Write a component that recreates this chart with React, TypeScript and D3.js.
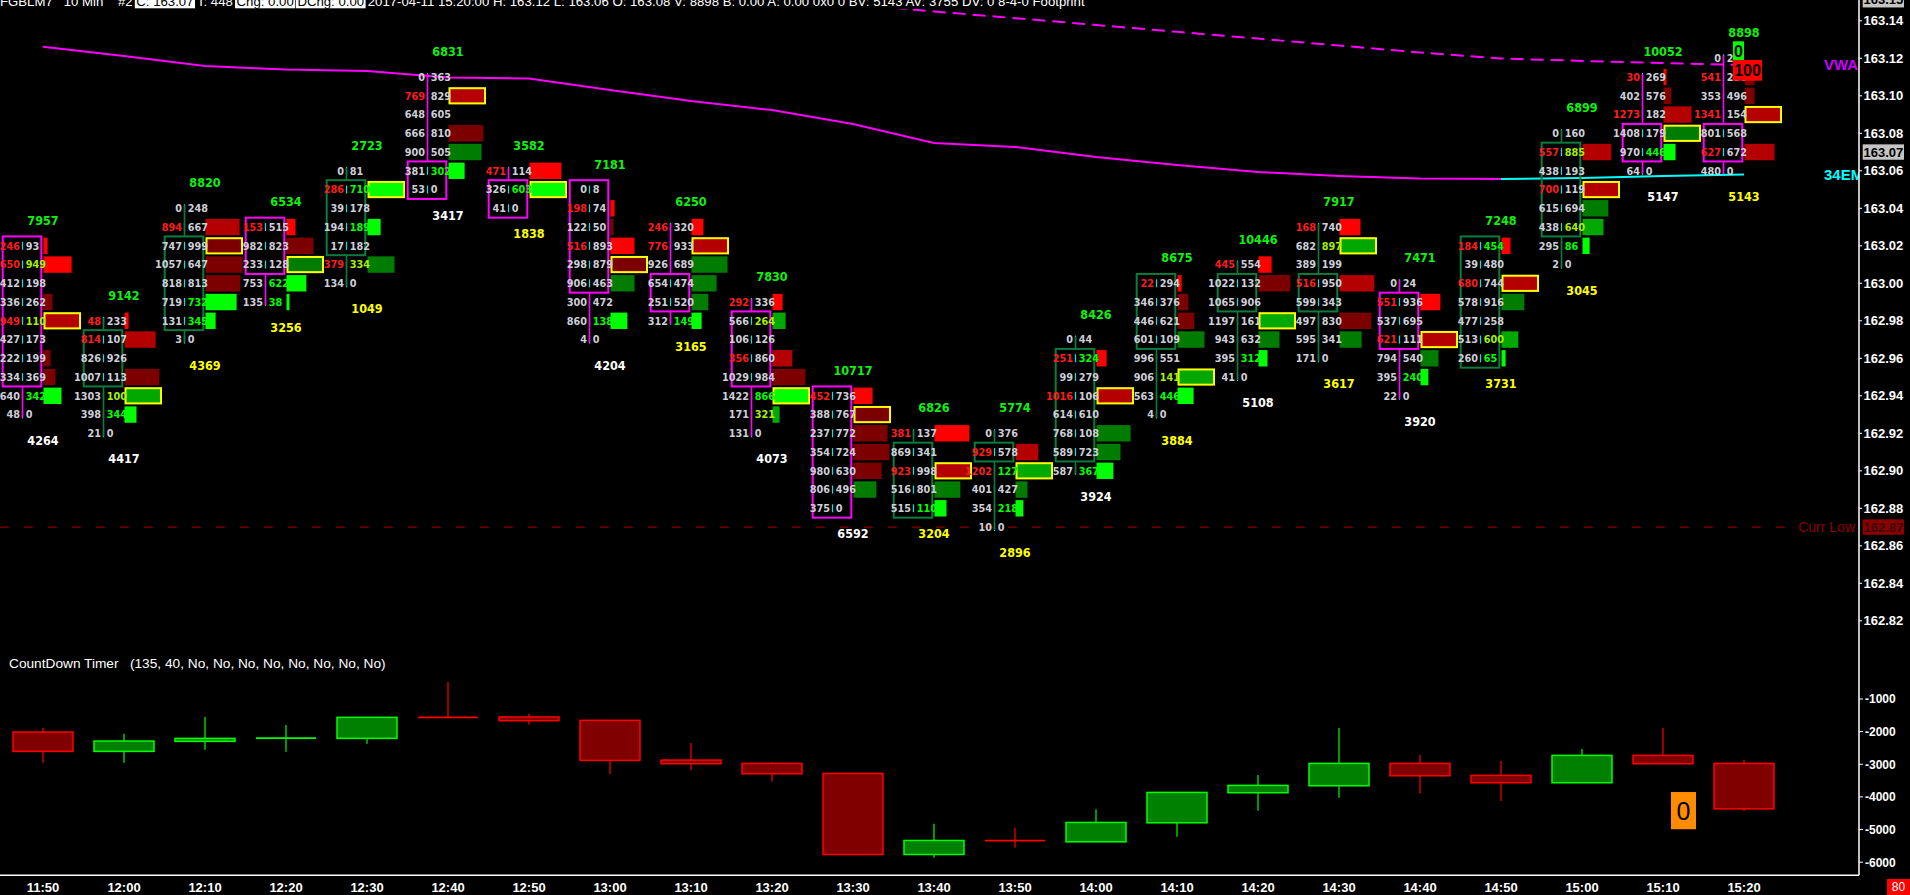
import * as d3 from "d3";
import { useEffect, useRef } from "react";

// bid, ask, imbalance flags (bid r / ask g|y), histogram % of widest row, tone (-3..3)
type Row = [string, string, string, number, number];

const times = ["11:50", "12:00", "12:10", "12:20", "12:30", "12:40", "12:50", "13:00", "13:10", "13:20", "13:30", "13:40", "13:50", "14:00", "14:10", "14:20", "14:30", "14:40", "14:50", "15:00", "15:10", "15:20"];

const barHigh = [163.02, 162.98, 163.04, 163.03, 163.06, 163.11, 163.06, 163.05, 163.03, 162.99, 162.94, 162.92, 162.92, 162.97, 163.0, 163.01, 163.03, 163.0, 163.02, 163.08, 163.11, 163.12];
const barOpen = [163.02, 162.95, 162.98, 163.03, 163.02, 163.06, 163.05, 163.05, 163.0, 162.98, 162.94, 162.88, 162.91, 162.91, 162.97, 162.99, 162.99, 162.99, 162.96, 163.03, 163.08, 163.08];
const barClose = [162.95, 162.97, 163.02, 163.01, 163.05, 163.05, 163.04, 163.0, 162.99, 162.95, 162.88, 162.91, 162.91, 162.96, 163.0, 163.0, 163.0, 162.97, 163.02, 163.07, 163.07, 163.07];
const barVolume = [7957, 9142, 8820, 6534, 2723, 6831, 3582, 7181, 6250, 7830, 10717, 6826, 5774, 8426, 8675, 10446, 7917, 7471, 7248, 6899, 10052, 8898];
const barDelta = [4264, 4417, 4369, 3256, 1049, 3417, 1838, 4204, 3165, 4073, 6592, 3204, 2896, 3924, 3884, 5108, 3617, 3920, 3731, 3045, 5147, 5143];
const deltaAlert = [0, 0, 1, 1, 1, 0, 1, 0, 1, 0, 0, 1, 1, 0, 1, 0, 1, 0, 1, 1, 0, 1];

const footprint: Row[][] = [
  [["246", "93", "r.", 11, -3], ["650", "949", "ry", 75, -3], ["412", "198", "..", 0, 0], ["336", "262", "..", 24, -1], ["949", "110", "ry", 100, -2], ["427", "173", "..", 0, 0], ["222", "199", "..", 19, -1], ["334", "369", "..", 32, -1], ["640", "342", ".g", 48, 3], ["48", "0", "..", 0, 0]],
  [["48", "233", "r.", 11, -3], ["814", "107", "r.", 83, -2], ["826", "926", "..", 0, 0], ["1007", "113", "..", 93, -1], ["1303", "100", ".y", 100, 2], ["398", "344", ".g", 32, 3], ["21", "0", "..", 0, 0]],
  [["0", "248", "..", 0, 0], ["894", "667", "r.", 91, -2], ["747", "999", "..", 100, -1], ["1057", "647", "..", 99, -1], ["818", "813", "..", 93, -1], ["719", "732", ".g", 83, 3], ["131", "345", ".g", 27, 3], ["3", "0", "..", 0, 0]],
  [["153", "515", "r.", 24, -3], ["982", "823", "..", 72, -1], ["233", "128", "..", 100, 1], ["753", "622", ".g", 53, 3], ["135", "38", ".g", 8, 3]],
  [["0", "81", "..", 0, 0], ["286", "710", "rg", 100, 3], ["39", "178", "..", 0, 0], ["194", "189", ".g", 35, 3], ["17", "182", "..", 0, 0], ["379", "334", "ry", 72, 1], ["134", "0", "..", 0, 0]],
  [["0", "363", "..", 0, 0], ["769", "829", "r.", 100, -2], ["648", "605", "..", 0, 0], ["666", "810", "..", 93, -1], ["900", "505", "..", 88, 1], ["381", "302", ".g", 43, 3], ["53", "0", "..", 0, 0]],
  [["471", "114", "r.", 85, -3], ["326", "603", ".g", 100, 3], ["41", "0", "..", 0, 0]],
  [["0", "8", "..", 0, 0], ["198", "74", "r.", 11, -3], ["122", "50", "..", 8, -1], ["516", "893", "r.", 64, -3], ["298", "879", "..", 100, -1], ["906", "463", "..", 64, 1], ["300", "472", "..", 0, 0], ["860", "138", ".g", 45, 3], ["4", "0", "..", 0, 0]],
  [["246", "320", "r.", 32, -3], ["776", "933", "r.", 100, -2], ["926", "689", "..", 96, 1], ["654", "474", "..", 67, 1], ["251", "520", "..", 45, 1], ["312", "149", ".g", 27, 3]],
  [["292", "336", "r.", 27, -3], ["566", "264", ".y", 35, 2], ["106", "126", "..", 0, 0], ["356", "860", "r.", 53, -2], ["1029", "984", "..", 88, -1], ["1422", "866", ".g", 100, 3], ["171", "321", ".y", 19, 2], ["131", "0", "..", 0, 0]],
  [["452", "736", "r.", 51, -3], ["388", "767", "..", 100, -1], ["237", "772", "..", 91, -1], ["354", "724", "..", 96, -1], ["980", "630", "..", 75, -1], ["806", "496", "..", 61, 1], ["375", "0", "..", 0, 0]],
  [["381", "137", "r.", 93, -3], ["869", "341", "..", 0, 0], ["923", "998", "r.", 100, -2], ["516", "801", "..", 69, 1], ["515", "110", ".g", 32, 3]],
  [["0", "376", "..", 0, 0], ["929", "578", "r.", 61, -2], ["1202", "127", "rg", 100, 2], ["401", "427", "..", 32, 1], ["354", "218", ".g", 21, 3], ["10", "0", "..", 0, 0]],
  [["0", "44", "..", 0, 0], ["251", "324", "rg", 27, -3], ["99", "279", "..", 0, 0], ["1016", "106", "r.", 100, -2], ["614", "610", "..", 0, 0], ["768", "108", "..", 91, 1], ["589", "723", "..", 64, 1], ["587", "367", ".g", 45, 3]],
  [["22", "294", "r.", 11, -3], ["346", "376", "..", 29, -1], ["446", "621", "..", 45, -1], ["601", "109", "..", 72, 1], ["996", "551", "..", 0, 0], ["906", "141", ".y", 100, 2], ["563", "446", ".g", 43, 3], ["4", "0", "..", 0, 0]],
  [["445", "554", "r.", 35, -3], ["1022", "132", "..", 85, -1], ["1065", "906", "..", 0, 0], ["1197", "161", "..", 100, 2], ["943", "632", "..", 56, 1], ["395", "312", ".g", 24, 3], ["41", "0", "..", 0, 0]],
  [["168", "740", "r.", 56, -3], ["682", "897", ".y", 100, 2], ["389", "199", "..", 0, 0], ["516", "950", "r.", 93, -2], ["599", "343", "..", 0, 0], ["497", "830", "..", 85, -1], ["595", "341", "..", 59, 1], ["171", "0", "..", 0, 0]],
  [["0", "24", "..", 0, 0], ["551", "936", "r.", 53, -3], ["537", "695", "..", 0, 0], ["621", "111", "r.", 100, -2], ["794", "540", "..", 48, 1], ["395", "240", ".g", 21, 3], ["22", "0", "..", 0, 0]],
  [["184", "454", "rg", 24, -3], ["39", "480", "..", 0, 0], ["680", "744", "r.", 100, -2], ["578", "916", "..", 61, 1], ["477", "258", "..", 0, 0], ["513", "600", ".y", 45, 2], ["260", "65", ".g", 11, 3]],
  [["0", "160", "..", 0, 0], ["557", "885", "ry", 77, -2], ["438", "193", "..", 0, 0], ["700", "119", "r.", 100, -2], ["615", "694", "..", 69, 1], ["438", "640", ".y", 56, 2], ["295", "86", ".g", 19, 3], ["2", "0", "..", 0, 0]],
  [["30", "269", "r.", 8, -3], ["402", "576", "..", 21, -1], ["1273", "182", "r.", 75, -2], ["1408", "179", "..", 100, 1], ["970", "446", ".g", 32, 3], ["64", "0", "..", 0, 0]],
  [["0", "24", "..", 0, 0], ["541", "236", "r.", 27, -1], ["353", "496", "..", 27, -1], ["1341", "154", "r.", 100, -2], ["801", "568", "..", 0, 0], ["627", "672", "r.", 80, -2], ["480", "0", "..", 0, 0]],
];

const emaValues = [163.1262, 163.1212, 163.1159, 163.114, 163.1132, 163.1098, 163.1092, 163.1031, 163.0972, 163.0924, 163.085, 163.0748, 163.0727, 163.0674, 163.0631, 163.0594, 163.0572, 163.0559, 163.0556, 163.0562, 163.0572, 163.058];
const vwapTimes = times.slice(10);
const vwapValues = [163.1489, 163.145, 163.1414, 163.1378, 163.1341, 163.1305, 163.1268, 163.1231, 163.1199, 163.1186, 163.1175, 163.1164];
const priceTicks = d3.range(0, 17).map((i) => +(162.82 + i * 0.02).toFixed(2));
const lastPrice = 163.07;
const topMarker = 163.15;
const currLow = 162.87;

const cdOpen = [-2012, -2605, -2298, -2206, -2206, -1562, -1552, -1654, -2871, -2973, -3280, -5764, -5340, -5376, -4793, -3872, -3658, -2973, -3341, -3566, -2728, -2973];
const cdHigh = [-1889, -2064, -1552, -1797, -1562, -479, -1450, -1654, -2349, -2932, -3280, -4825, -4947, -4374, -3862, -3331, -1889, -2718, -2902, -2534, -1889, -2871];
const cdLow = [-2955, -2954, -2554, -2616, -2371, -1562, -1787, -3300, -3178, -3536, -5764, -5867, -5561, -5376, -5222, -4426, -4027, -3893, -4128, -3566, -2984, -4436];
const cdClose = [-2605, -2288, -2206, -2200, -1562, -1570, -1665, -2881, -2984, -3291, -5764, -5334, -5350, -4782, -3862, -3647, -2973, -3352, -3566, -2728, -2984, -4365];
const cdTicks = [-1000, -2000, -3000, -4000, -5000, -6000];

const titleParts: [string, boolean][] = [
  ["FGBLM7   10 Min    #2 ", false],
  ["C: 163.07", true],
  [" T: 448 ", false],
  ["Chg: 0.00", true],
  [" ", false],
  ["DChg: 0.00", true],
  [" 2017-04-11 15:20:00 H: 163.12 L: 163.06 O: 163.08 V: 8898 B: 0.00 A: 0.00 0x0 0 BV: 5143 AV: 3755 DV: 0 8-4-0 Footprint", false],
];

const W = 1910;
const H = 895;
const axisX = 1859;
const numFont = "'Liberation Sans Narrow','Arial Narrow','DejaVu Sans Condensed',sans-serif";
const sansFont = "'Liberation Sans',Arial,sans-serif";
const toneColor: Record<number, string> = { [-3]: "#ff0000", [-2]: "#b40000", [-1]: "#7c0000", 1: "#007c00", 2: "#00a800", 3: "#00ff00" };
const grey = "#cfcfd8";

export default function App() {
  const titleRef = useRef<SVGGElement>(null);

  const x = d3.scalePoint<string>().domain(times).range([43, 1744]);
  const y = d3.scaleLinear().domain([162.96, 162.88]).range([358.3, 508.3]);
  const rowH = y(163.0) - y(163.01);
  const hw = d3.scaleLinear().domain([0, 100]).range([0, 37.5]);
  const yc = d3.scaleLinear().domain([-1000, -6000]).range([699, 862.2]);

  useEffect(() => {
    document.body.style.margin = "0";
    document.body.style.background = "#000";
    document.body.style.overflow = "hidden";
    const g = d3.select(titleRef.current);
    g.selectAll("*").remove();
    let cx = 0;
    titleParts.forEach(([txt, boxed]) => {
      const rect = g.append("rect");
      const t = g
        .append("text")
        .attr("x", cx)
        .attr("y", 5.5)
        .attr("font-family", sansFont)
        .attr("font-size", 13.2)
        .attr("fill", boxed ? "#000" : "#fff")
        .style("white-space", "pre")
        .text(txt);
      const w = (t.node() as SVGTextElement).getComputedTextLength();
      if (boxed) {
        rect.attr("x", cx - 1.5).attr("y", -10).attr("width", w + 3).attr("height", 18.3).attr("fill", "#fff");
      } else {
        rect.remove();
      }
      cx += w;
    });
  }, []);

  const emaSegments: { color: string; pts: [number, number][] }[] = [];
  emaValues.forEach((v, i) => {
    if (i === 0) return;
    const color = v >= emaValues[i - 1] ? "#00ffff" : "#ff00ff";
    const p0: [number, number] = [x(times[i - 1])!, y(emaValues[i - 1])];
    const p1: [number, number] = [x(times[i])!, y(v)];
    const last = emaSegments[emaSegments.length - 1];
    if (last && last.color === color) last.pts.push(p1);
    else emaSegments.push({ color, pts: [p0, p1] });
  });
  const line = d3.line<[number, number]>();
  const vwapPath = d3.line<number>().x((_, i) => x(vwapTimes[i])!).y((v) => y(v))(vwapValues) ?? "";

  const lastT = x(times[times.length - 1])!;
  const lastTop = y(barHigh[barHigh.length - 1]);

  return (
    <div style={{ position: "fixed", left: 0, top: 0, width: W, height: H, background: "#000" }}>
      <svg width={W} height={H} style={{ display: "block" }}>
        <defs>
          <clipPath id="upper">
            <rect x={0} y={9} width={axisX} height={636} />
          </clipPath>
          <clipPath id="plot">
            <rect x={0} y={0} width={axisX} height={H} />
          </clipPath>
        </defs>
        <rect width={W} height={H} fill="#000" />

        <g clipPath="url(#upper)">
          {/* current low */}
          <line x1={0} x2={1795} y1={y(currLow)} y2={y(currLow)} stroke="#8a0000" strokeWidth={1.3} strokeDasharray="9,15" />
          {/* 34 EMA */}
          {emaSegments.map((s, i) => (
            <path key={i} d={line(s.pts) ?? ""} fill="none" stroke={s.color} strokeWidth={2} />
          ))}
          {/* VWAP */}
          <path d={vwapPath} fill="none" stroke="#ff00ff" strokeWidth={2} strokeDasharray="13,7" />

          {times.map((t, i) => {
            const T = x(t)!;
            const sep = T - 20.5;
            const rows = footprint[i];
            const high = barHigh[i];
            const low = +(high - (rows.length - 1) * 0.01).toFixed(2);
            const up = barClose[i] >= barOpen[i];
            const boxColor = up ? "#0b7c3e" : "#ff00ff";
            const bTop = y(Math.max(barOpen[i], barClose[i])) - rowH / 2;
            const bBot = y(Math.min(barOpen[i], barClose[i])) + rowH / 2;
            return (
              <g key={t}>
                {rows.map((r, j) => {
                  const cy = y(high - j * 0.01);
                  return <line key={j} x1={sep} x2={sep} y1={cy - 4} y2={cy + 4} stroke="#00e8e8" strokeWidth={1.2} />;
                })}
                {y(high) - 3 < bTop && <line x1={sep} x2={sep} y1={y(high) - 3} y2={bTop} stroke={boxColor} strokeWidth={1.6} />}
                {y(low) + 3 > bBot && <line x1={sep} x2={sep} y1={bBot} y2={y(low) + 3} stroke={boxColor} strokeWidth={1.6} />}
                {rows.map((r, j) => {
                  const cy = y(high - j * 0.01);
                  const [, , , pct, tone] = r;
                  if (!pct) return null;
                  if (pct >= 100)
                    return (
                      <rect key={j} x={T + 1.5} y={cy - 7.6} width={hw(pct) - 2} height={15.2} fill={toneColor[tone]} stroke="#ffff00" strokeWidth={2} />
                    );
                  return <rect key={j} x={T + 0.5} y={cy - 8.2} width={hw(pct)} height={16.4} fill={toneColor[tone]} />;
                })}
                <rect x={T - 40.3} y={bTop} width={38.6} height={bBot - bTop} fill="none" stroke={boxColor} strokeWidth={2} />
                {rows.map((r, j) => {
                  const cy = y(high - j * 0.01);
                  const [bid, ask, flags] = r;
                  const askColor = flags[1] === "g" ? "#00ff00" : flags[1] === "y" ? "#a8f000" : grey;
                  return (
                    <g key={j} fontFamily={numFont} fontWeight="bold" fontSize={10.8}>
                      <text x={sep - 2.5} y={cy} dy="0.36em" textAnchor="end" fill={flags[0] === "r" ? "#ff1c1c" : grey}>
                        {bid}
                      </text>
                      <text x={sep + 3.2} y={cy} dy="0.36em" fill={askColor}>
                        {ask}
                      </text>
                    </g>
                  );
                })}
                <text x={T} y={y(high) - 25.5} dy="0.36em" textAnchor="middle" fontFamily={numFont} fontWeight="bold" fontSize={12.5} fill="#10f010">
                  {barVolume[i]}
                </text>
                <text x={T} y={y(low) + 25.5} dy="0.36em" textAnchor="middle" fontFamily={numFont} fontWeight="bold" fontSize={12.5} fill={deltaAlert[i] ? "#ffff00" : "#ffffff"}>
                  {barDelta[i]}
                </text>
              </g>
            );
          })}

          {/* last bar alert boxes */}
          <rect x={lastT - 11} y={lastTop - 17} width={11} height={20.7} fill="#00ff00" />
          <text x={lastT - 5.5} y={lastTop - 6.6} dy="0.36em" textAnchor="middle" fontFamily={sansFont} fontWeight="bold" fontSize={16} fill="#000">
            0
          </text>
          <rect x={lastT - 11} y={lastTop + 1.7} width={29} height={20.7} fill="#ff0000" />
          <text x={lastT + 3.5} y={lastTop + 12} dy="0.36em" textAnchor="middle" fontFamily={sansFont} fontWeight="bold" fontSize={16} fill="#000">
            100
          </text>
        </g>

        {/* line labels */}
        <g clipPath="url(#plot)" fontFamily={sansFont} fontWeight="bold" fontSize={15}>
          <text x={1824} y={65} dy="0.36em" fill="#cc00ff">VWAP</text>
          <text x={1824} y={175} dy="0.36em" fill="#00ffff">34EMA</text>
          <text x={1855} y={y(currLow)} dy="0.36em" textAnchor="end" fontWeight="normal" fontSize={14} fill="#8a0000">
            Curr Low
          </text>
        </g>

        {/* price axis */}
        <line x1={axisX} x2={axisX} y1={0} y2={875.3} stroke="#fff" strokeWidth={1.5} />
        <g fontFamily={sansFont} fontWeight="bold" fontSize={13}>
          {priceTicks.map((p) => (
            <g key={p}>
              <line x1={axisX} x2={axisX + 3} y1={y(p)} y2={y(p)} stroke="#fff" />
              <text x={1863.5} y={y(p)} dy="0.36em" fill="#fff">
                {d3.format(".2f")(p)}
              </text>
            </g>
          ))}
          <rect x={1862.7} y={y(lastPrice) - 7.7} width={41.3} height={15.4} fill="#c4c4c4" />
          <text x={1863.5} y={y(lastPrice)} dy="0.36em" fill="#000">
            {d3.format(".2f")(lastPrice)}
          </text>
          <rect x={1862.7} y={y(topMarker) - 10} width={41.3} height={15.4} fill="#c4c4c4" />
          <text x={1863.5} y={y(topMarker) - 2.3} dy="0.36em" fill="#000">
            {d3.format(".2f")(topMarker)}
          </text>
          <rect x={1862.7} y={y(currLow) - 7.7} width={41.3} height={15.4} fill="#8a0000" />
          <text x={1863.5} y={y(currLow)} dy="0.36em" fill="#3a0a0a">
            {d3.format(".2f")(currLow)}
          </text>
        </g>

        {/* title */}
        <g ref={titleRef} />

        {/* lower panel */}
        <text x={9} y={662.7} dy="0.36em" fontFamily={sansFont} fontSize={13.7} fill="#fff" style={{ whiteSpace: "pre" }}>
          {"CountDown Timer   (135, 40, No, No, No, No, No, No, No, No)"}
        </text>
        {times.map((t, i) => {
          const T = x(t)!;
          const o = cdOpen[i];
          const c = cdClose[i];
          const up = c >= o;
          const stroke = up ? "#00ff00" : "#ff0000";
          const fill = up ? "#008000" : "#800000";
          const top = yc(Math.max(o, c));
          const bot = yc(Math.min(o, c));
          return (
            <g key={t}>
              <line x1={T} x2={T} y1={yc(cdHigh[i])} y2={yc(cdLow[i])} stroke={stroke} strokeWidth={1.2} />
              {bot - top < 1.5 ? (
                <line x1={T - 30} x2={T + 30} y1={top} y2={top} stroke={stroke} strokeWidth={1.6} />
              ) : (
                <rect x={T - 30} y={top} width={60} height={bot - top} fill={fill} stroke={stroke} strokeWidth={1.5} />
              )}
            </g>
          );
        })}
        <rect x={x("15:10")! + 8} y={yc(-3850)} width={25} height={yc(-4990) - yc(-3850)} fill="#ff8c00" />
        <text x={x("15:10")! + 20.5} y={(yc(-3850) + yc(-4990)) / 2} dy="0.36em" textAnchor="middle" fontFamily={sansFont} fontSize={25} fill="#000">
          0
        </text>
        <g fontFamily={sansFont} fontWeight="bold" fontSize={12}>
          {cdTicks.map((v) => (
            <g key={v}>
              <line x1={axisX} x2={axisX + 4} y1={yc(v)} y2={yc(v)} stroke="#fff" />
              <text x={1865} y={yc(v)} dy="0.36em" fill="#fff">
                {v}
              </text>
            </g>
          ))}
        </g>

        {/* time axis */}
        <line x1={0} x2={axisX} y1={875.3} y2={875.3} stroke="#fff" strokeWidth={1.5} />
        <g fontFamily={sansFont} fontWeight="bold" fontSize={13} fill="#fff">
          {times.map((t) => (
            <text key={t} x={x(t)!} y={887} dy="0.36em" textAnchor="middle">
              {t}
            </text>
          ))}
        </g>
        <rect x={1887} y={879} width={23} height={16} fill="#ff0000" />
        <text x={1898.5} y={887} dy="0.36em" textAnchor="middle" fontFamily={sansFont} fontSize={12} fill="#fff">
          80
        </text>
      </svg>
    </div>
  );
}
